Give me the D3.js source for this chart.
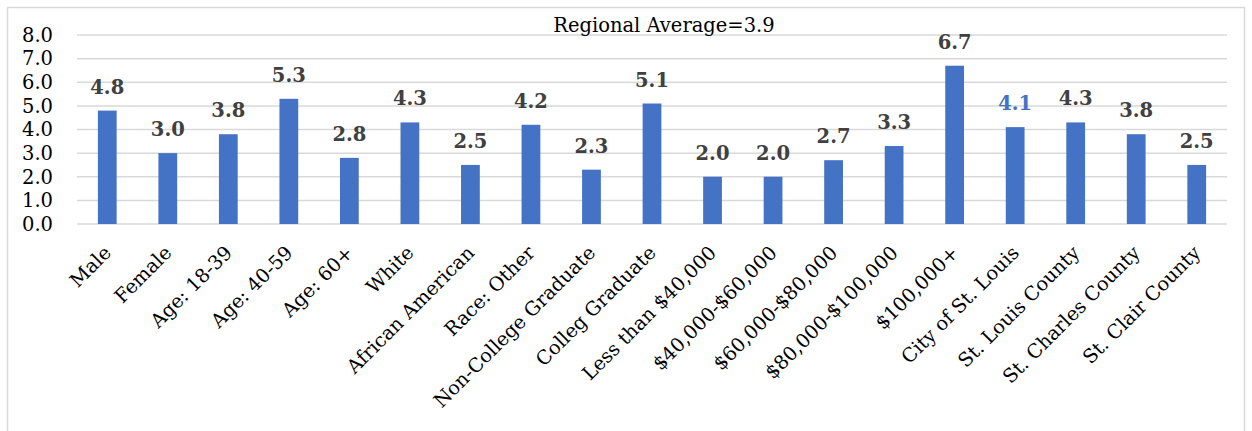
<!DOCTYPE html>
<html><head><meta charset="utf-8">
<script src="https://cdn.jsdelivr.net/npm/d3@7"></script>
<style>body{margin:0;background:#fff}svg{display:block}</style>
</head><body>
<svg id="c" width="1252" height="431"></svg>
<script>
const categories = ["Male","Female","Age: 18-39","Age: 40-59","Age: 60+","White","African American","Race: Other","Non-College Graduate","Colleg Graduate","Less than $40,000","$40,000-$60,000","$60,000-$80,000","$80,000-$100,000","$100,000+","City of St. Louis","St. Louis County","St. Charles County","St. Clair County"];
const values = [4.8,3.0,3.8,5.3,2.8,4.3,2.5,4.2,2.3,5.1,2.0,2.0,2.7,3.3,6.7,4.1,4.3,3.8,2.5];
const yTicks = [0,1,2,3,4,5,6,7,8];
const highlight = "City of St. Louis";
const title = "Regional Average=3.9";

const FONT = "'DejaVu Serif', serif";
const svg = d3.select("#c");
svg.append("rect").attr("x",7.5).attr("y",7.5).attr("width",1237).attr("height",440)
  .attr("fill","none").attr("stroke","#d9d9d9").attr("stroke-width",1.5);

const x = d3.scaleBand().domain(categories).range([77,1227]).paddingInner(0.69).paddingOuter(0.345);
const y = d3.scaleLinear().domain([0,8]).range([224,35]);

const g = svg.append("g");
g.selectAll("line.grid").data(yTicks).join("line").attr("class","grid")
  .attr("x1",77).attr("x2",1227).attr("y1",d=>y(d)).attr("y2",d=>y(d))
  .attr("stroke","#d9d9d9").attr("stroke-width",1.5);

const yAxis = d3.axisLeft(y).tickValues(yTicks).tickFormat(d3.format(".1f")).tickSize(0).tickPadding(0);
const ya = svg.append("g").attr("transform","translate(53,0)").call(yAxis);
ya.select(".domain").remove();
ya.selectAll("text").attr("font-family",FONT).attr("font-size",19.5).attr("fill","#000");

g.selectAll("rect.bar").data(values).join("rect").attr("class","bar")
  .attr("x",(d,i)=>x(categories[i])).attr("width",x.bandwidth())
  .attr("y",d=>y(d)).attr("height",d=>y(0)-y(d)).attr("fill","#4472C4");

g.selectAll("text.val").data(values).join("text").attr("class","val")
  .attr("x",(d,i)=>x(categories[i])+x.bandwidth()/2).attr("y",d=>y(d)-17)
  .attr("text-anchor","middle").attr("font-family",FONT).attr("font-size",19.5).attr("font-weight","bold")
  .attr("fill",(d,i)=>categories[i]===highlight?"#4472C4":"#404040")
  .text(d=>d3.format(".1f")(d));

const xAxis = d3.axisBottom(x).tickSize(0).tickPadding(0);
const xa = svg.append("g").attr("transform","translate(0,230)").call(xAxis);
xa.select(".domain").remove();
xa.selectAll("text").attr("font-family",FONT).attr("font-size",19.3).attr("fill","#000")
  .attr("text-anchor","end").attr("dy","0")
  .attr("transform","translate(5,24) rotate(-45)");

svg.append("text").attr("x",664).attr("y",32).attr("text-anchor","middle")
  .attr("font-family",FONT).attr("font-size",19.5).attr("fill","#000").text(title);
</script>
</body></html>
